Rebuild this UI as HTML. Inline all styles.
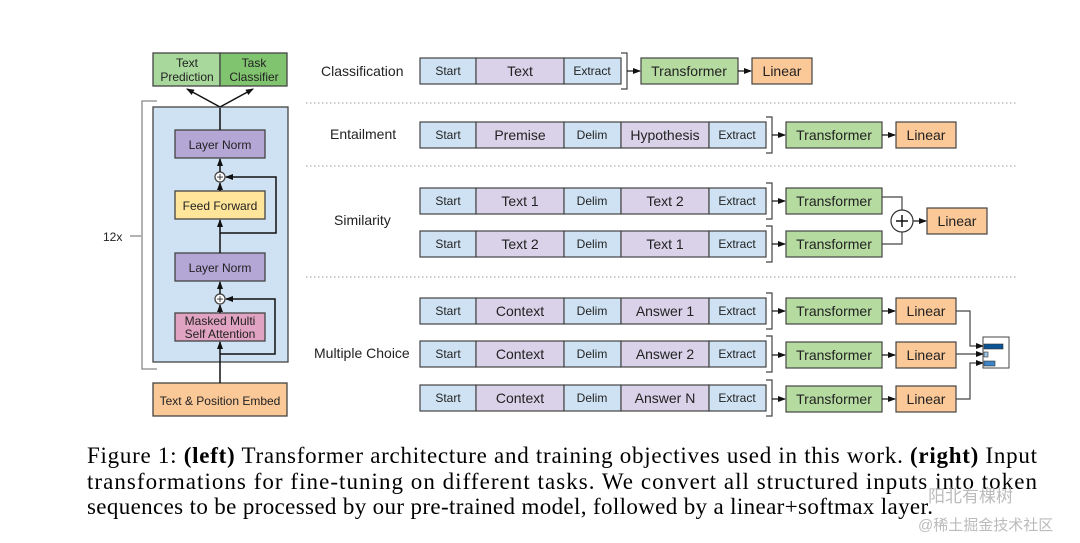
<!DOCTYPE html>
<html><head><meta charset="utf-8"><style>
html,body{margin:0;padding:0;background:#fff;}
svg{display:block;}
text{font-family:"Liberation Sans",sans-serif;fill:#222;}
.s{font-size:12px;}
.m{font-size:14px;}
.cap{font-family:"Liberation Serif",serif;font-size:23px;fill:#000;}
</style></head><body>
<svg width="1080" height="543" viewBox="0 0 1080 543" xmlns="http://www.w3.org/2000/svg">
<defs><marker id="a" markerWidth="8" markerHeight="8" refX="7" refY="4" orient="auto" markerUnits="userSpaceOnUse"><path d="M0,1 L8,4 L0,7z" fill="#111"/></marker></defs>
<g stroke="#444" stroke-width="1.3">
<rect x="153" y="53" width="67" height="33" fill="#a8d89b"/>
<rect x="220" y="53" width="67" height="33" fill="#80c46f"/>
<rect x="153" y="107" width="135" height="255" fill="#cfe2f3"/>
<rect x="175" y="130" width="90" height="28" fill="#b4a7d6"/>
<rect x="175" y="191" width="90" height="28" fill="#ffe599"/>
<rect x="175" y="253" width="90" height="28" fill="#b4a7d6"/>
<rect x="175" y="313" width="90" height="28" fill="#e0a3c2"/>
<rect x="153" y="383" width="134" height="33" fill="#fbc898"/>
<circle cx="220" cy="177" r="5" fill="#fff"/>
<circle cx="220" cy="299" r="5" fill="#fff"/>
</g>
<g stroke="#111" stroke-width="1.5" fill="none">
<line x1="220" y1="383" x2="220" y2="342" marker-end="url(#a)"/>
<line x1="220" y1="313" x2="220" y2="305" marker-end="url(#a)"/>
<line x1="220" y1="294" x2="220" y2="282" marker-end="url(#a)"/>
<line x1="220" y1="253" x2="220" y2="220" marker-end="url(#a)"/>
<line x1="220" y1="191" x2="220" y2="183" marker-end="url(#a)"/>
<line x1="220" y1="172" x2="220" y2="159" marker-end="url(#a)"/>
<line x1="220" y1="130" x2="220" y2="108"/>
<polyline points="220,354 275,354 275,299 226,299" marker-end="url(#a)"/>
<polyline points="220,233 276,233 276,177 226,177" marker-end="url(#a)"/>
<line x1="220" y1="107" x2="187" y2="89" marker-end="url(#a)"/>
<line x1="220" y1="107" x2="253" y2="89" marker-end="url(#a)"/>
</g>
<polyline points="157,101 142,101 142,369 157,369" fill="none" stroke="#888" stroke-width="1.3"/>
<line x1="130" y1="236" x2="141" y2="236" stroke="#888" stroke-width="1.3"/>
<text x="103" y="241" class="s" fill="#333">12x</text>
<text x="187" y="67" class="s" text-anchor="middle">Text</text>
<text x="187" y="81" class="s" text-anchor="middle">Prediction</text>
<text x="254" y="67" class="s" text-anchor="middle">Task</text>
<text x="254" y="81" class="s" text-anchor="middle">Classifier</text>
<text x="220" y="149" class="s" text-anchor="middle">Layer Norm</text>
<text x="220" y="210" class="s" text-anchor="middle">Feed Forward</text>
<text x="220" y="272" class="s" text-anchor="middle">Layer Norm</text>
<text x="220" y="325" class="s" text-anchor="middle" font-size="11">Masked Multi</text>
<text x="220" y="338" class="s" text-anchor="middle" font-size="11">Self Attention</text>
<text x="220" y="405" class="s" text-anchor="middle">Text &amp; Position Embed</text>
<text x="220" y="181" font-size="12" text-anchor="middle">+</text>
<text x="220" y="303" font-size="12" text-anchor="middle">+</text>

<g stroke="#999" stroke-width="1" stroke-dasharray="1.5,2.5">
<line x1="306" y1="103" x2="1018" y2="103"/>
<line x1="306" y1="166" x2="1018" y2="166"/>
<line x1="306" y1="277" x2="1018" y2="277"/>
</g>
<text x="321" y="76" class="m">Classification</text>
<text x="330" y="139" class="m">Entailment</text>
<text x="334" y="225" class="m">Similarity</text>
<text x="314" y="358" class="m">Multiple Choice</text>

<g stroke="#444" stroke-width="1.2">
<rect x="420" y="58" width="56" height="26" fill="#cfe2f3"/>
<rect x="476" y="58" width="88" height="26" fill="#d9d2e9"/>
<rect x="564" y="58" width="57" height="26" fill="#cfe2f3"/>
<rect x="641" y="58" width="97" height="26" fill="#b6dba0"/>
<rect x="752" y="58" width="60" height="26" fill="#fbc898"/>
</g>
<polyline points="621,53 627,53 627,89 621,89" fill="none" stroke="#444" stroke-width="1.2"/>
<line x1="627" y1="71" x2="640" y2="71" stroke="#111" stroke-width="1.2" marker-end="url(#a)"/>
<line x1="738" y1="71" x2="751" y2="71" stroke="#111" stroke-width="1.2" marker-end="url(#a)"/>
<text x="448" y="75" class="s" text-anchor="middle">Start</text>
<text x="520" y="76" class="m" text-anchor="middle">Text</text>
<text x="592" y="75" class="s" text-anchor="middle">Extract</text>
<text x="689" y="76" class="m" text-anchor="middle">Transformer</text>
<text x="782" y="76" class="m" text-anchor="middle">Linear</text>

<g stroke="#444" stroke-width="1.2">
<rect x="420" y="122" width="56" height="26" fill="#cfe2f3"/><rect x="476" y="122" width="88" height="26" fill="#d9d2e9"/><rect x="564" y="122" width="57" height="26" fill="#cfe2f3"/><rect x="621" y="122" width="88" height="26" fill="#d9d2e9"/><rect x="709" y="122" width="57" height="26" fill="#cfe2f3"/>
<rect x="786" y="122" width="96" height="26" fill="#b6dba0"/><rect x="896" y="122" width="60" height="26" fill="#fbc898"/>
<rect x="420" y="188" width="56" height="26" fill="#cfe2f3"/><rect x="476" y="188" width="88" height="26" fill="#d9d2e9"/><rect x="564" y="188" width="57" height="26" fill="#cfe2f3"/><rect x="621" y="188" width="88" height="26" fill="#d9d2e9"/><rect x="709" y="188" width="57" height="26" fill="#cfe2f3"/>
<rect x="786" y="188" width="96" height="26" fill="#b6dba0"/>
<rect x="420" y="231" width="56" height="26" fill="#cfe2f3"/><rect x="476" y="231" width="88" height="26" fill="#d9d2e9"/><rect x="564" y="231" width="57" height="26" fill="#cfe2f3"/><rect x="621" y="231" width="88" height="26" fill="#d9d2e9"/><rect x="709" y="231" width="57" height="26" fill="#cfe2f3"/>
<rect x="786" y="231" width="96" height="26" fill="#b6dba0"/>
<rect x="927" y="208" width="60" height="26" fill="#fbc898"/>
<rect x="420" y="298" width="56" height="26" fill="#cfe2f3"/><rect x="476" y="298" width="88" height="26" fill="#d9d2e9"/><rect x="564" y="298" width="57" height="26" fill="#cfe2f3"/><rect x="621" y="298" width="88" height="26" fill="#d9d2e9"/><rect x="709" y="298" width="57" height="26" fill="#cfe2f3"/>
<rect x="786" y="298" width="96" height="26" fill="#b6dba0"/><rect x="896" y="298" width="60" height="26" fill="#fbc898"/>
<rect x="420" y="341" width="56" height="26" fill="#cfe2f3"/><rect x="476" y="341" width="88" height="26" fill="#d9d2e9"/><rect x="564" y="341" width="57" height="26" fill="#cfe2f3"/><rect x="621" y="341" width="88" height="26" fill="#d9d2e9"/><rect x="709" y="341" width="57" height="26" fill="#cfe2f3"/>
<rect x="786" y="342" width="96" height="26" fill="#b6dba0"/><rect x="896" y="342" width="60" height="26" fill="#fbc898"/>
<rect x="420" y="385" width="56" height="26" fill="#cfe2f3"/><rect x="476" y="385" width="88" height="26" fill="#d9d2e9"/><rect x="564" y="385" width="57" height="26" fill="#cfe2f3"/><rect x="621" y="385" width="88" height="26" fill="#d9d2e9"/><rect x="709" y="385" width="57" height="26" fill="#cfe2f3"/>
<rect x="786" y="386" width="96" height="26" fill="#b6dba0"/><rect x="896" y="386" width="60" height="26" fill="#fbc898"/>
</g>
<g fill="none" stroke="#444" stroke-width="1.2">
<polyline points="766,117 772,117 772,153 766,153"/>
<polyline points="766,183 772,183 772,219 766,219"/>
<polyline points="766,226 772,226 772,262 766,262"/>
<polyline points="766,293 772,293 772,329 766,329"/>
<polyline points="766,336 772,336 772,372 766,372"/>
<polyline points="766,380 772,380 772,416 766,416"/>
</g>
<g stroke="#111" stroke-width="1.2" fill="none">
<line x1="772" y1="135" x2="785" y2="135" marker-end="url(#a)"/>
<line x1="882" y1="135" x2="895" y2="135" marker-end="url(#a)"/>
<line x1="772" y1="201" x2="785" y2="201" marker-end="url(#a)"/>
<line x1="772" y1="244" x2="785" y2="244" marker-end="url(#a)"/>
<polyline points="882,197 902,197 902,210" stroke="#444"/>
<polyline points="882,244 902,244 902,232" stroke="#444"/>
<line x1="913" y1="221" x2="926" y2="221" marker-end="url(#a)"/>
<line x1="772" y1="311" x2="785" y2="311" marker-end="url(#a)"/>
<line x1="882" y1="311" x2="895" y2="311" marker-end="url(#a)"/>
<line x1="772" y1="355" x2="785" y2="355" marker-end="url(#a)"/>
<line x1="882" y1="355" x2="895" y2="355" marker-end="url(#a)"/>
<line x1="772" y1="399" x2="785" y2="399" marker-end="url(#a)"/>
<line x1="882" y1="399" x2="895" y2="399" marker-end="url(#a)"/>
<polyline points="956,311 970,311 970,346 983,346" stroke="#444" marker-end="url(#a)"/>
<line x1="956" y1="354" x2="983" y2="354" stroke="#444" marker-end="url(#a)"/>
<polyline points="956,399 970,399 970,363 983,363" stroke="#444" marker-end="url(#a)"/>
</g>
<circle cx="902" cy="221" r="11" fill="#fff" stroke="#333" stroke-width="1.2"/>
<line x1="896" y1="221" x2="908" y2="221" stroke="#111" stroke-width="1.5"/>
<line x1="902" y1="215" x2="902" y2="227" stroke="#111" stroke-width="1.5"/>
<rect x="983" y="337" width="26" height="31" fill="#fff" stroke="#444" stroke-width="1"/>
<rect x="984" y="344" width="19" height="5" fill="#0b5394" stroke="#333" stroke-width="0.6"/>
<rect x="984" y="352" width="4" height="5" fill="#9fc5e8" stroke="#333" stroke-width="0.6"/>
<rect x="984" y="361" width="11" height="5" fill="#3d85c6" stroke="#333" stroke-width="0.6"/>
<g>
<text x="448" y="139" class="s" text-anchor="middle">Start</text><text x="520" y="140" class="m" text-anchor="middle">Premise</text><text x="592" y="139" class="s" text-anchor="middle">Delim</text><text x="665" y="140" class="m" text-anchor="middle">Hypothesis</text><text x="737" y="139" class="s" text-anchor="middle">Extract</text>
<text x="834" y="140" class="m" text-anchor="middle">Transformer</text><text x="926" y="140" class="m" text-anchor="middle">Linear</text>
<text x="448" y="205" class="s" text-anchor="middle">Start</text><text x="520" y="206" class="m" text-anchor="middle">Text 1</text><text x="592" y="205" class="s" text-anchor="middle">Delim</text><text x="665" y="206" class="m" text-anchor="middle">Text 2</text><text x="737" y="205" class="s" text-anchor="middle">Extract</text>
<text x="834" y="206" class="m" text-anchor="middle">Transformer</text>
<text x="448" y="248" class="s" text-anchor="middle">Start</text><text x="520" y="249" class="m" text-anchor="middle">Text 2</text><text x="592" y="248" class="s" text-anchor="middle">Delim</text><text x="665" y="249" class="m" text-anchor="middle">Text 1</text><text x="737" y="248" class="s" text-anchor="middle">Extract</text>
<text x="834" y="249" class="m" text-anchor="middle">Transformer</text>
<text x="957" y="226" class="m" text-anchor="middle">Linear</text>
<text x="448" y="315" class="s" text-anchor="middle">Start</text><text x="520" y="316" class="m" text-anchor="middle">Context</text><text x="592" y="315" class="s" text-anchor="middle">Delim</text><text x="665" y="316" class="m" text-anchor="middle">Answer 1</text><text x="737" y="315" class="s" text-anchor="middle">Extract</text>
<text x="834" y="316" class="m" text-anchor="middle">Transformer</text><text x="926" y="316" class="m" text-anchor="middle">Linear</text>
<text x="448" y="358" class="s" text-anchor="middle">Start</text><text x="520" y="359" class="m" text-anchor="middle">Context</text><text x="592" y="358" class="s" text-anchor="middle">Delim</text><text x="665" y="359" class="m" text-anchor="middle">Answer 2</text><text x="737" y="358" class="s" text-anchor="middle">Extract</text>
<text x="834" y="360" class="m" text-anchor="middle">Transformer</text><text x="926" y="360" class="m" text-anchor="middle">Linear</text>
<text x="448" y="402" class="s" text-anchor="middle">Start</text><text x="520" y="403" class="m" text-anchor="middle">Context</text><text x="592" y="402" class="s" text-anchor="middle">Delim</text><text x="665" y="403" class="m" text-anchor="middle">Answer N</text><text x="737" y="402" class="s" text-anchor="middle">Extract</text>
<text x="834" y="404" class="m" text-anchor="middle">Transformer</text><text x="926" y="404" class="m" text-anchor="middle">Linear</text>
</g>

<text x="87" y="463" class="cap" textLength="950" lengthAdjust="spacing">Figure 1: <tspan font-weight="bold">(left)</tspan> Transformer architecture and training objectives used in this work. <tspan font-weight="bold">(right)</tspan> Input</text>
<text x="87" y="489" class="cap" textLength="950" lengthAdjust="spacing">transformations for fine-tuning on different tasks.  We convert all structured inputs into token</text>
<text x="87" y="514" class="cap" textLength="846" lengthAdjust="spacing">sequences to be processed by our pre-trained model, followed by a linear+softmax layer.</text>
<text x="928" y="502" font-family="Liberation Sans, Noto Sans CJK JP, sans-serif" font-size="17" style="fill:#bbb">阳北有棵树</text>
<text x="918" y="530" font-family="Liberation Sans, Noto Sans CJK JP, sans-serif" font-size="15" style="fill:#bbb">@稀土掘金技术社区</text>
</svg>
</body></html>
